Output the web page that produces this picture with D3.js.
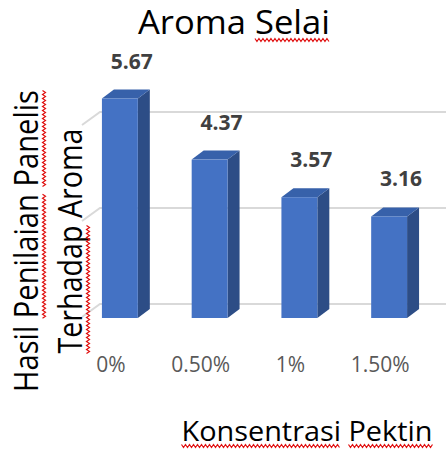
<html>
<script src="https://cdnjs.cloudflare.com/ajax/libs/d3/7.8.5/d3.min.js"></script>
<body style="margin:0;background:#fff">
<style>
  body { font-family: "Open Sans", sans-serif; }
</style>
<svg width="446" height="449"></svg>
<script>

var categories = ["0%", "0.50%", "1%", "1.50%"];
var values = [5.67, 4.37, 3.57, 3.16];
var gridValues = [1, 3, 5];

var svg = d3.select("svg");

// 3d offsets
var bdx = 12, bdy = 9;     // bar depth
var wdx = 18, wdy = 13;    // back wall

var x = d3.scaleBand()
    .domain(categories)
    .range([75, 434])
    .paddingInner(0.6)
    .paddingOuter(0.3);

var y = d3.scaleLinear().domain([1, 5]).range([318, 130]);
var yWall = d3.scaleLinear().domain([1, 5]).range([304, 112]);

// gridlines on the wall
svg.append("g").selectAll("path")
    .data(gridValues)
    .enter().append("path")
    .attr("d", function(d) {
        return "M82," + (yWall(d) + wdy) + "L" + (82 + wdx) + "," + yWall(d) + "L446," + yWall(d);
    })
    .style("fill", "none")
    .style("stroke", "#d9d9d9")
    .style("stroke-width", 2);

var data = categories.map(function(c, i) { return {cat: c, val: values[i]}; });

var bars = svg.append("g").selectAll("g")
    .data(data)
    .enter().append("g");

bars.append("path")
    .attr("d", function(d) {
        var x0 = x(d.cat) + x.bandwidth(), yt = y(d.val), yb = y(1);
        return "M" + x0 + "," + yt + "L" + (x0 + bdx) + "," + (yt - bdy) +
            "L" + (x0 + bdx) + "," + (yb - bdy) + "L" + x0 + "," + yb + "Z";
    })
    .style("fill", "#2d4d86");

bars.append("path")
    .attr("d", function(d) {
        var x0 = x(d.cat), w = x.bandwidth(), yt = y(d.val);
        return "M" + x0 + "," + yt + "L" + (x0 + bdx) + "," + (yt - bdy) +
            "L" + (x0 + w + bdx) + "," + (yt - bdy) + "L" + (x0 + w) + "," + yt + "Z";
    })
    .style("fill", "#3761aa");

bars.append("rect")
    .attr("x", function(d) { return x(d.cat); })
    .attr("y", function(d) { return y(d.val); })
    .attr("width", x.bandwidth())
    .attr("height", function(d) { return y(1) - y(d.val); })
    .style("fill", "#4472c4");

// value labels
svg.append("g").selectAll("text")
    .data(data)
    .enter().append("text")
    .attr("x", function(d) { return x(d.cat) + x.bandwidth() / 2 + 12; })
    .attr("y", function(d) { return y(d.val) - 30; })
    .attr("text-anchor", "middle")
    .style("font-size", "21px")
    .style("font-weight", "bold")
    .style("fill", "#404040")
    .text(function(d) { return d.val.toFixed(2); });

// category labels
svg.append("g").selectAll("text")
    .data(categories)
    .enter().append("text")
    .attr("x", function(d) { return x(d) + x.bandwidth() / 2 - 9; })
    .attr("y", 372)
    .attr("text-anchor", "middle")
    .style("font-size", "21px")
    .style("fill", "#595959")
    .text(function(d) { return d; });

// red spellcheck squiggle under part of a text
function squiggle(parent, textNode, start, count, baseY) {
    var ext0 = textNode.getExtentOfChar(start);
    var ext1 = textNode.getExtentOfChar(start + count - 1);
    var a = ext0.x, b = ext1.x + ext1.width;
    var pts = [];
    for (var i = 0, px = a; px <= b; px += 2, i++) {
        pts.push([px, baseY + (i % 2 ? 1.5 : -1.5)]);
    }
    parent.append("path")
        .attr("d", d3.line()(pts))
        .style("fill", "none")
        .style("stroke", "#e01010")
        .style("stroke-width", 1.2);
}

function title(parent, str, xx, yy, size, len) {
    return parent.append("text")
        .attr("x", xx)
        .attr("y", yy)
        .attr("text-anchor", "middle")
        .attr("textLength", len)
        .attr("lengthAdjust", "spacingAndGlyphs")
        .style("font-size", size + "px")
        .style("fill", "#000")
        .text(str);
}

// chart title
var t1 = title(svg, "Aroma Selai", 234, 34, 33, 192);
squiggle(svg, t1.node(), 6, 5, 40);

// x title
var t2 = title(svg, "Konsentrasi Pektin", 307, 441, 27, 251);
squiggle(svg, t2.node(), 0, 11, 446);
squiggle(svg, t2.node(), 12, 6, 446);

// y title (two lines)
var yg = svg.append("g").attr("transform", "translate(0,241) rotate(-90)");
var t3 = title(yg, "Hasil Penilaian Panelis", 0, 38, 33, 302);
squiggle(yg, t3.node(), 6, 9, 44);
squiggle(yg, t3.node(), 16, 7, 44);
var t4 = title(yg, "Terhadap Aroma", 0, 82, 33, 225);
squiggle(yg, t4.node(), 0, 8, 88);

</script>
</body>
</html>
